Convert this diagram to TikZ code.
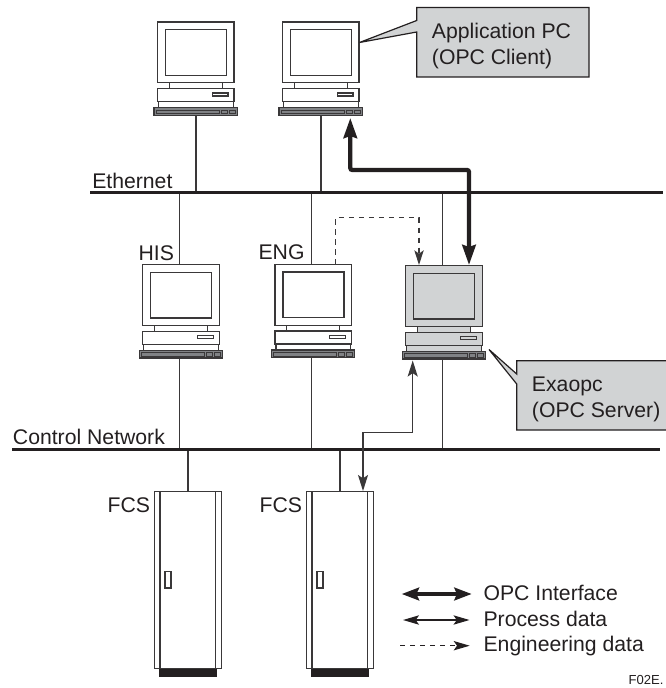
\documentclass[tikz,border=0pt]{standalone}
\usepackage{fontspec}
\setmainfont{Liberation Sans}
\usetikzlibrary{arrows.meta}
\definecolor{ink}{HTML}{231F20}
\definecolor{line}{HTML}{3A3839}
\definecolor{panel}{HTML}{D1D3D4}
\definecolor{slotc}{HTML}{808285}
\tikzset{
  x=0.75pt,y=-0.75pt,
  part/.style={draw=line,line width=1pt},
  net/.style={draw=ink,line width=1.6pt},
  drop/.style={draw=line,line width=0.95pt},
  label/.style={font=\fontsize{15.9pt}{19pt}\selectfont,text=ink,inner sep=0pt,anchor=base west,align=left},
  thick arrow/.style={draw=ink,line width=3.2pt,rounded corners=1.5pt,{Stealth[length=15pt,width=10pt,inset=1.5pt]}-{Stealth[length=15pt,width=10pt,inset=1.5pt]}},
  thin arrow/.style={draw=line,line width=1pt,{Stealth[length=12pt,width=7.5pt,inset=2.5pt]}-{Stealth[length=12pt,width=7.5pt,inset=2.5pt]}},
  dash arrow/.style={draw=line,line width=1pt,dash pattern=on 4pt off 3.5pt,-{Stealth[length=11pt,width=7pt,inset=2.5pt]}},
  callout/.style={draw=ink,fill=panel,line width=0.9pt},
  pics/pc/.style={code={
    \draw[part,fill=#1] (0,0) rectangle (76.5,60.7);
    \draw[part,fill=#1] (8,7.5) rectangle (69,53.3);
    \draw[part,fill=#1] (11.8,60.7) rectangle (64.8,66.5);
    \draw[part,fill=#1] (0,66.5) rectangle (76.5,79.5);
    \draw[part,fill=#1] (54.8,71) rectangle (70.5,74);
    \draw[part,fill=#1] (1,79.5) rectangle (75.8,85.5);
    \draw[part,fill=slotc] (-3.5,85.5) rectangle (79.8,93.3);
    \draw[draw=line,line width=0.7pt,fill=slotc] (-1.5,88.2) rectangle (61.5,91.6);
    \draw[draw=line,line width=0.7pt,fill=slotc] (63.8,88.2) rectangle (69.8,91.6);
    \draw[draw=line,line width=0.7pt,fill=slotc] (71.8,88.2) rectangle (77.5,91.6);
  }},
  pics/fcs/.style={code={
    \fill[ink] (4.7,176.5) rectangle (62.2,185.5);
    \draw[part] (0,0) rectangle (67.4,176.6);
    \draw[part] (5.7,0) -- (5.7,176.6);
    \draw[part] (61.4,0) -- (61.4,176.6);
    \draw[part] (10.7,80) rectangle (16.7,96.3);
  }}
}
\begin{document}
\begin{tikzpicture}
\useasboundingbox (0,0) rectangle (665,688);
% stations
\pic at (157.5,22) {pc=white};
\pic at (282.5,22) {pc=white};
\pic at (142.7,264.7) {pc=white};
\pic at (275,264.5) {pc=white};
\pic at (405.7,265.7) {pc=panel};
\pic at (154.3,491.7) {fcs};
\pic at (306.3,491.7) {fcs};
% anchors
\coordinate (pcA) at (196,115.3);
\coordinate (pcB) at (321,115.3);
\coordinate (ethA) at (90,192.5);
\coordinate (ethB) at (663,192.5);
\coordinate (ctlA) at (12,449.5);
\coordinate (ctlB) at (660,449.5);
% drops
\draw[drop] (pcA) -- (pcA |- ethA);
\draw[drop] (pcB) -- (pcB |- ethA);
\coordinate (hisT) at (179.5,264.7);
\coordinate (hisB) at (179.5,358);
\coordinate (engT) at (311.7,264.5);
\coordinate (engB) at (311.7,357.8);
\coordinate (exaT) at (442.7,265.7);
\coordinate (exaB) at (442.7,359);
\draw[drop] (hisT) -- (hisT |- ethA);
\draw[drop] (engT) -- (engT |- ethA);
\draw[drop] (exaT) -- (exaT |- ethA);
\draw[drop] (hisB) -- (hisB |- ctlA);
\draw[drop] (engB) -- (engB |- ctlA);
\draw[drop] (exaB) -- (exaB |- ctlA);
\coordinate (fcsA) at (188,491.7);
\coordinate (fcsB) at (340,491.7);
\draw[drop] (fcsA) -- (fcsA |- ctlA);
\draw[drop] (fcsB) -- (fcsB |- ctlA);
% networks
\draw[net] (ethA) -- (ethB);
\draw[net] (ctlA) -- (ctlB);
% data arrows
\coordinate (opcA) at (350.3,118);
\coordinate (opcB) at (469,265);
\draw[thick arrow] (opcA) -- (350.3,170) -- (469,170) -- (opcB);
\coordinate (prcA) at (363,491);
\coordinate (prcB) at (412.7,360.5);
\draw[thin arrow] (prcA) -- (363,432.8) -- (412.7,432.8) -- (prcB);
\coordinate (engS) at (335.7,264.5);
\coordinate (engE) at (419,265);
\draw[dash arrow] (engS) -- (335.7,217.7) -- (419,217.7) -- (engE);
% callouts
\draw[callout] (416.7,7.5) -- (589,7.5) -- (589,77) -- (416.7,77) -- (416.7,32) -- (359.5,42.5) -- (416.7,20.5) -- cycle;
\node[label] (appT) at (431.7,38.5) {Application PC};
\node[label] (appU) at (431.7,65) {(OPC Client)};
\draw[callout] (516.7,360.7) -- (668,360.7) -- (668,430) -- (516.7,430) -- (516.7,384) -- (489,349.5) -- (516.7,374) -- cycle;
\node[label] (exaL) at (531.7,391) {Exaopc};
\node[label] (exaU) at (531.7,417) {(OPC Server)};
% labels
\node[label] (ethL) at (92,188) {Ethernet};
\node[label] (ctlL) at (12.7,444) {Control Network};
\node[label] (hisL) at (138.3,260) {HIS};
\node[label] (engL) at (258.3,259.3) {ENG};
\node[label] (fcsL) at (107.3,512.7) {FCS};
\node[label] (fcsM) at (259.3,512.7) {FCS};
% legend
\coordinate (lgA) at (401.7,594);
\coordinate (lgB) at (471.7,594);
\coordinate (lgC) at (403,620);
\coordinate (lgD) at (469.5,620);
\coordinate (lgE) at (400,645.7);
\coordinate (lgF) at (469.7,645.7);
\draw[draw=ink,line width=3.2pt,{Stealth[length=13pt,width=9.5pt,inset=2pt]}-{Stealth[length=13pt,width=9.5pt,inset=2pt]}] (lgA) -- (lgB);
\draw[draw=ink,line width=1pt,{Stealth[length=12pt,width=7pt,inset=2.5pt]}-{Stealth[length=12pt,width=7pt,inset=2.5pt]}] (lgC) -- (lgD);
\draw[draw=ink,line width=0.9pt,dash pattern=on 4pt off 3.5pt,-{Stealth[length=12pt,width=7pt,inset=2.5pt]}] (lgE) -- (lgF);
\node[label] (lgX) at (483.3,600.7) {OPC Interface};
\node[label] (lgY) at (483.3,626.7) {Process data};
\node[label] (lgZ) at (483.3,651.7) {Engineering data};
\node[label,font=\fontsize{9.8pt}{12pt}\selectfont] (fig) at (628.3,684) {F02E.};
\end{tikzpicture}
\end{document}
